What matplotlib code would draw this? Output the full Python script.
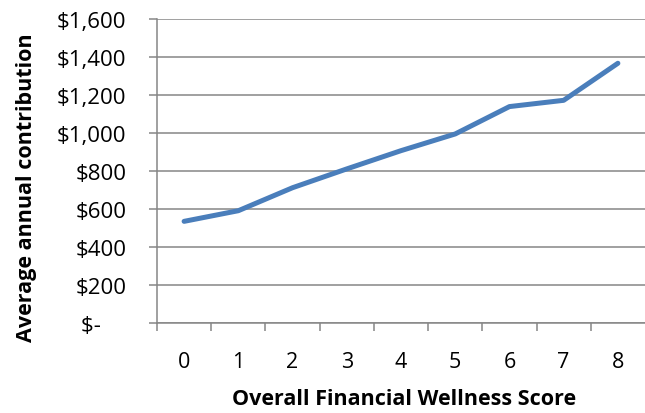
"""Line chart: average annual contribution by financial wellness score."""

import matplotlib

matplotlib.use("Agg")
import matplotlib.pyplot as plt
from matplotlib.ticker import FixedLocator, FuncFormatter

# Data
scores = [0, 1, 2, 3, 4, 5, 6, 7, 8]
contribution = [535, 591, 712, 811, 907, 995, 1139, 1172, 1367]
y_ticks = [0, 200, 400, 600, 800, 1000, 1200, 1400, 1600]

GRID = "#868686"
LINE = "#4a7ebb"
FS = 15.5

plt.rcParams["font.family"] = ["Open Sans", "DejaVu Sans"]


def money(v, _pos):
    # Excel accounting style: zero shows as "$-" with trailing padding
    if v == 0:
        return "$-\u2007\u2007"
    return f"${v:,.0f}"


fig = plt.figure(figsize=(6.45, 4.14), dpi=100)
ax = fig.add_axes([0.2434, 0.2174, 0.7566, 0.7343])

ax.plot(scores, contribution, color=LINE, linewidth=3.6, solid_capstyle="round")

ax.set_xlim(-0.5, len(scores) - 0.5)
ax.set_ylim(0, 1600)
ax.set_yticks(y_ticks)
ax.yaxis.set_major_formatter(FuncFormatter(money))
ax.grid(axis="y", color=GRID, linewidth=1.1)
ax.set_axisbelow(True)

# categories labelled at the centre, tick marks on the boundaries
ax.set_xticks(scores)
ax.set_xticklabels([str(s) for s in scores])
ax.xaxis.set_minor_locator(FixedLocator([s - 0.5 for s in scores]))
ax.tick_params(axis="x", which="major", length=0, pad=20, labelsize=FS, colors="black")
ax.tick_params(axis="x", which="minor", length=6, width=1.1, color=GRID)
ax.tick_params(axis="y", length=6, width=1.1, color=GRID, labelsize=FS + 0.5, pad=16)

for side in ("top", "right"):
    ax.spines[side].set_visible(False)
for side in ("left", "bottom"):
    ax.spines[side].set_color(GRID)
    ax.spines[side].set_linewidth(1.1)

ax.set_xlabel("Overall Financial Wellness Score", fontsize=FS, fontweight="bold")
ax.set_ylabel("Average annual contribution", fontsize=FS, fontweight="bold")
ax.xaxis.set_label_coords(0.506, -0.215)
ax.yaxis.set_label_coords(-0.245, 0.45)

fig.savefig("out.png", dpi=100)
